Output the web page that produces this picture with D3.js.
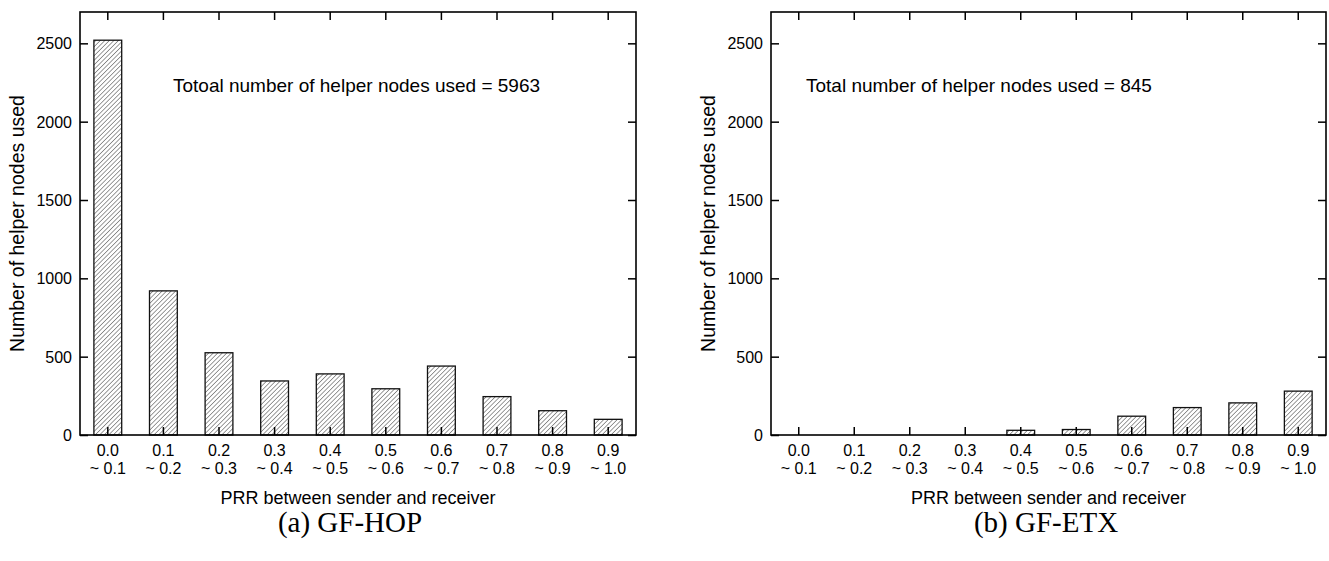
<!DOCTYPE html>
<html>
<head>
<meta charset="utf-8">
<script src="https://cdn.jsdelivr.net/npm/d3@7"></script>
<style>
    body { margin: 0; background: #fff; }
    svg text { font-family: "Liberation Sans", Arial, sans-serif; fill: #000; }
    svg text.caption { font-family: "Liberation Serif", "Times New Roman", serif; }
</style>
</head>
<body>
<div id="chart-area"></div>
<script>
// Data: PRR bins and helper node counts
var binStarts = ["0.0", "0.1", "0.2", "0.3", "0.4", "0.5", "0.6", "0.7", "0.8", "0.9"];
var binEnds   = ["~ 0.1", "~ 0.2", "~ 0.3", "~ 0.4", "~ 0.5", "~ 0.6", "~ 0.7", "~ 0.8", "~ 0.9", "~ 1.0"];
var hopValues = [2520, 920, 525, 345, 390, 295, 440, 245, 155, 100];
var etxValues = [0, 0, 0, 0, 30, 35, 120, 175, 205, 280];
var yTicks = [0, 500, 1000, 1500, 2000, 2500];
var panelTexts = ["Totoal number of helper nodes used = 5963", "Total number of helper nodes used = 845"];
var captions = ["(a) GF-HOP", "(b) GF-ETX"];

var svg = d3.select("#chart-area")
    .append("svg")
    .attr("width", 1329)
    .attr("height", 561);

// hatch pattern for the bars
var defs = svg.append("defs");
var pat = defs.append("pattern")
    .attr("id", "hatch")
    .attr("patternUnits", "userSpaceOnUse")
    .attr("width", 3.2)
    .attr("height", 3.2)
    .attr("patternTransform", "rotate(45)");
pat.append("rect").attr("width", 3.2).attr("height", 3.2).attr("fill", "#fff");
pat.append("line")
    .attr("x1", 0).attr("y1", 0).attr("x2", 0).attr("y2", 3.2)
    .attr("stroke", "#222")
    .attr("stroke-width", 0.9);

var drawPanel = function(left, right, values, note, caption) {
    var top = 12, bottom = 435;

    var xScale = d3.scaleBand()
        .domain(binStarts)
        .range([left, right])
        .padding(0);

    var yScale = d3.scaleLinear()
        .domain([0, 2700])
        .range([bottom, top]);

    var g = svg.append("g");

    // bars (skip empty bins)
    var barData = values.map(function(v, i) {
        return { bin: binStarts[i], value: v };
    }).filter(function(d) { return d.value > 0; });

    g.selectAll(".bar")
        .data(barData)
        .enter()
        .append("rect")
        .attr("class", "bar")
        .attr("x", function(d) { return xScale(d.bin) + xScale.bandwidth() * 0.25; })
        .attr("width", xScale.bandwidth() * 0.5)
        .attr("y", function(d) { return yScale(d.value); })
        .attr("height", function(d) { return bottom - yScale(d.value); })
        .attr("fill", "url(#hatch)")
        .attr("stroke", "#111")
        .attr("stroke-width", 1.3);

    // frame
    g.append("rect")
        .attr("x", left)
        .attr("y", top)
        .attr("width", right - left)
        .attr("height", bottom - top)
        .attr("fill", "none")
        .attr("stroke", "#000")
        .attr("stroke-width", 1.6);

    // bottom + top ticks, pointing inward
    var xAxis = d3.axisBottom(xScale).tickSize(-8).tickSizeOuter(0).tickFormat("");
    g.append("g")
        .attr("transform", "translate(0," + bottom + ")")
        .call(xAxis)
        .call(function(s) { s.select(".domain").remove(); })
        .selectAll("line").attr("stroke-width", 1.5);

    var xTop = d3.axisTop(xScale).tickSize(-8).tickSizeOuter(0).tickFormat("");
    g.append("g")
        .attr("transform", "translate(0," + top + ")")
        .call(xTop)
        .call(function(s) { s.select(".domain").remove(); })
        .selectAll("line").attr("stroke-width", 1.5);

    // two-line tick labels
    var lbl = g.append("g").selectAll("text")
        .data(binStarts)
        .enter()
        .append("text")
        .attr("text-anchor", "middle")
        .style("font-size", "16px");
    lbl.append("tspan")
        .attr("x", function(d) { return xScale(d) + xScale.bandwidth() / 2; })
        .attr("y", 456)
        .text(function(d) { return d; });
    lbl.append("tspan")
        .attr("x", function(d) { return xScale(d) + xScale.bandwidth() / 2; })
        .attr("y", 474)
        .text(function(d, i) { return binEnds[i]; });

    // y axes
    var yAxis = d3.axisLeft(yScale)
        .tickValues(yTicks)
        .tickFormat(d3.format("d"))
        .tickSize(-8)
        .tickSizeOuter(0)
        .tickPadding(8);
    var ya = g.append("g")
        .attr("transform", "translate(" + left + ",0)")
        .call(yAxis);
    ya.select(".domain").remove();
    ya.selectAll("line").attr("stroke-width", 1.5);
    ya.selectAll("text").style("font-size", "16px").attr("dy", "0.35em");

    var yRight = d3.axisRight(yScale).tickValues(yTicks).tickSize(-8).tickSizeOuter(0).tickFormat("");
    var yr = g.append("g")
        .attr("transform", "translate(" + right + ",0)")
        .call(yRight);
    yr.select(".domain").remove();
    yr.selectAll("line").attr("stroke-width", 1.5);

    // axis titles
    g.append("text")
        .attr("transform", "translate(" + (left - 56) + "," + ((top + bottom) / 2) + ") rotate(-90)")
        .attr("text-anchor", "middle")
        .style("font-size", "19.5px")
        .text("Number of helper nodes used");

    g.append("text")
        .attr("x", (left + right) / 2)
        .attr("y", 504)
        .attr("text-anchor", "middle")
        .style("font-size", "18px")
        .text("PRR between sender and receiver");

    // note
    g.append("text")
        .attr("x", note.x)
        .attr("y", 92)
        .style("font-size", "19px")
        .text(note.text);

    // caption
    g.append("text")
        .attr("class", "caption")
        .attr("x", caption.x)
        .attr("y", 532)
        .attr("text-anchor", "middle")
        .style("font-size", "29px")
        .text(caption.text);
};

drawPanel(80, 636, hopValues, { x: 173, text: panelTexts[0] }, { x: 350, text: captions[0] });
drawPanel(771, 1326, etxValues, { x: 806, text: panelTexts[1] }, { x: 1046, text: captions[1] });
</script>
</body>
</html>
